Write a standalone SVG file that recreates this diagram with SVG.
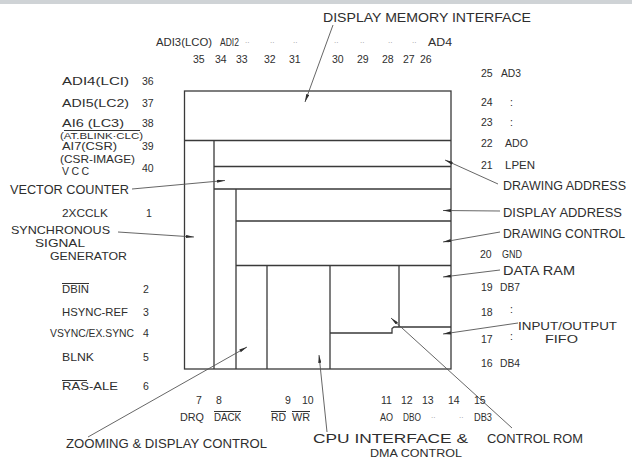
<svg xmlns="http://www.w3.org/2000/svg" width="632" height="459" viewBox="0 0 632 459">
<defs>
<style>
.ln{stroke:#3a3a3a;stroke-width:1.3;fill:none}
.ld{stroke:#555;stroke-width:0.9;fill:none;marker-end:url(#ah)}
.ob{stroke:#333;stroke-width:1}
text{font-family:"Liberation Sans",Arial,sans-serif;fill:#2e2e2e}
.big{font-size:13px}
.mid{font-size:11.5px}
.pin{font-size:10.5px}
.dot{font-size:8px;fill:#999}
</style>
<marker id="ah" viewBox="0 0 10 4" refX="10" refY="2" markerWidth="9" markerHeight="3.2" markerUnits="userSpaceOnUse" orient="auto">
<path d="M0,0 L10,2 L0,4 z" fill="#2e2e2e"/>
</marker>
</defs>
<rect x="0" y="0" width="632" height="459" fill="#ffffff"/>
<rect x="0" y="0" width="632" height="4" fill="#cfd3d6"/>

<g id="chip">
<rect class="ln" x="184.5" y="91" width="266.5" height="278"/>
<path class="ln" d="M184.5,140.5 H451 M214,140.5 V369 M214,166.5 H451 M214,189 H451 M236,189 V369 M236,221 H451 M236,265.5 H451 M267,265.5 V369 M330,265.5 V369 M399,265.5 V327 M330,333 H392 V328.5 L394,327 H451"/>
</g>

<g id="connectors">
<line class="ld" x1="333" y1="25" x2="305" y2="102"/>
<line class="ld" x1="132" y1="189" x2="225" y2="180.5"/>
<line class="ld" x1="118" y1="232" x2="194" y2="237"/>
<line class="ld" x1="88" y1="437" x2="247" y2="347"/>
<line class="ld" x1="327" y1="432" x2="319" y2="355"/>
<line class="ld" x1="512" y1="428" x2="391" y2="318"/>
<line class="ld" x1="518" y1="323" x2="443" y2="334"/>
<line class="ld" x1="500" y1="270" x2="443" y2="277"/>
<line class="ld" x1="500" y1="232" x2="443" y2="242"/>
<line class="ld" x1="500" y1="211" x2="443" y2="210.5"/>
<line class="ld" x1="498" y1="184" x2="445" y2="160"/>
</g>

<g id="display-memory-interface"><text class="big" x="323" y="22" textLength="208" lengthAdjust="spacingAndGlyphs">DISPLAY MEMORY INTERFACE</text></g>
<g id="vector-counter"><text class="big" x="10" y="194" textLength="119" lengthAdjust="spacingAndGlyphs">VECTOR COUNTER</text></g>
<g id="synchronous-signal-generator">
<text class="mid" x="11" y="234" textLength="99" lengthAdjust="spacingAndGlyphs">SYNCHRONOUS</text>
<text class="mid" x="35" y="247" textLength="50" lengthAdjust="spacingAndGlyphs">SIGNAL</text>
<text class="mid" x="50" y="260" textLength="77" lengthAdjust="spacingAndGlyphs">GENERATOR</text>
</g>
<g id="drawing-address"><text class="big" x="503" y="190" textLength="123" lengthAdjust="spacingAndGlyphs">DRAWING ADDRESS</text></g>
<g id="display-address"><text class="big" x="503" y="217" textLength="119" lengthAdjust="spacingAndGlyphs">DISPLAY ADDRESS</text></g>
<g id="drawing-control"><text class="big" x="503" y="238" textLength="122" lengthAdjust="spacingAndGlyphs">DRAWING CONTROL</text></g>
<g id="data-ram"><text class="big" x="503" y="275" textLength="72" lengthAdjust="spacingAndGlyphs">DATA  RAM</text></g>
<g id="input-output-fifo">
<text class="mid" x="518" y="330" textLength="99" lengthAdjust="spacingAndGlyphs">INPUT/OUTPUT</text>
<text class="mid" x="545" y="343" textLength="33" lengthAdjust="spacingAndGlyphs">FIFO</text>
</g>
<g id="zooming-display-control"><text class="big" x="66" y="448" textLength="201" lengthAdjust="spacingAndGlyphs">ZOOMING &amp; DISPLAY CONTROL</text></g>
<g id="cpu-interface-dma-control">
<text class="big" x="313" y="443" textLength="155" lengthAdjust="spacingAndGlyphs">CPU INTERFACE &amp;</text>
<text class="mid" x="370" y="457" textLength="92" lengthAdjust="spacingAndGlyphs">DMA CONTROL</text>
</g>
<g id="control-rom"><text class="big" x="487" y="443" textLength="96" lengthAdjust="spacingAndGlyphs">CONTROL ROM</text></g>

<g id="pins-top">
<text class="pin" x="156" y="46" textLength="56" lengthAdjust="spacingAndGlyphs">ADI3(LCO)</text>
<text class="pin" x="220" y="46" textLength="19" lengthAdjust="spacingAndGlyphs">ADI2</text>
<text class="dot" x="245" y="43">..</text>
<text class="dot" x="270" y="43">..</text>
<text class="dot" x="293" y="43">..</text>
<text class="dot" x="334" y="43">..</text>
<text class="dot" x="360" y="43">..</text>
<text class="dot" x="388" y="43">..</text>
<text class="dot" x="412" y="43">..</text>
<text class="pin" x="428" y="46" textLength="24" lengthAdjust="spacingAndGlyphs">AD4</text>
<text class="pin" x="193" y="63">35</text>
<text class="pin" x="215" y="63">34</text>
<text class="pin" x="236" y="63">33</text>
<text class="pin" x="264" y="63">32</text>
<text class="pin" x="289" y="63">31</text>
<text class="pin" x="332" y="63">30</text>
<text class="pin" x="357" y="63">29</text>
<text class="pin" x="382" y="63">28</text>
<text class="pin" x="403" y="63">27</text>
<text class="pin" x="420" y="63">26</text>
</g>

<g id="pins-left">
<text class="pin" x="62" y="85" textLength="67" lengthAdjust="spacingAndGlyphs">ADI4(LCI)</text>
<text class="pin" x="142" y="85">36</text>
<text class="pin" x="62" y="107" textLength="67" lengthAdjust="spacingAndGlyphs">ADI5(LC2)</text>
<text class="pin" x="142" y="107">37</text>
<text class="pin" x="62" y="127" textLength="62" lengthAdjust="spacingAndGlyphs">AI6 (LC3)</text>
<text class="pin" x="142" y="127">38</text>
<line class="ob" x1="64" y1="130.5" x2="140" y2="130.5"/>
<text class="pin" x="60" y="139" textLength="83" lengthAdjust="spacingAndGlyphs" style="font-size:9.5px">(AT.BLINK·CLC)</text>
<text class="pin" x="62" y="150" textLength="55" lengthAdjust="spacingAndGlyphs">AI7(CSR)</text>
<text class="pin" x="142" y="150">39</text>
<text class="pin" x="60" y="163" textLength="75" lengthAdjust="spacingAndGlyphs">(CSR-IMAGE)</text>
<text class="pin" x="62" y="175" textLength="27" lengthAdjust="spacing">VCC</text>
<text class="pin" x="142" y="172">40</text>
<text class="pin" x="62" y="217" textLength="46" lengthAdjust="spacingAndGlyphs">2XCCLK</text>
<text class="pin" x="146" y="217">1</text>
<text class="pin" x="62" y="293" textLength="27" lengthAdjust="spacingAndGlyphs">DBIN</text>
<line class="ob" x1="62" y1="283.5" x2="89" y2="283.5"/>
<text class="pin" x="143" y="293">2</text>
<text class="pin" x="62" y="316" textLength="66" lengthAdjust="spacingAndGlyphs">HSYNC-REF</text>
<text class="pin" x="143" y="316">3</text>
<text class="pin" x="50" y="337" textLength="84" lengthAdjust="spacingAndGlyphs">VSYNC/EX.SYNC</text>
<text class="pin" x="143" y="337">4</text>
<text class="pin" x="62" y="361" textLength="32" lengthAdjust="spacingAndGlyphs">BLNK</text>
<text class="pin" x="143" y="361">5</text>
<text class="pin" x="62" y="390" textLength="56" lengthAdjust="spacingAndGlyphs">RAS-ALE</text>
<line class="ob" x1="62" y1="380.5" x2="87" y2="380.5"/>
<text class="pin" x="143" y="390">6</text>
</g>

<g id="pins-bottom">
<text class="pin" x="196" y="404">7</text>
<text class="pin" x="216" y="404">8</text>
<text class="pin" x="285" y="404">9</text>
<text class="pin" x="302" y="404">10</text>
<text class="pin" x="381" y="404">11</text>
<text class="pin" x="401" y="404">12</text>
<text class="pin" x="422" y="404">13</text>
<text class="pin" x="448" y="404">14</text>
<text class="pin" x="474" y="404">15</text>
<text class="pin" x="180" y="421" textLength="24" lengthAdjust="spacingAndGlyphs">DRQ</text>
<text class="pin" x="214" y="421" textLength="27" lengthAdjust="spacingAndGlyphs">DACK</text>
<line class="ob" x1="214" y1="411.5" x2="241" y2="411.5"/>
<text class="pin" x="271" y="421" textLength="15" lengthAdjust="spacingAndGlyphs">RD</text>
<line class="ob" x1="271" y1="411.5" x2="286" y2="411.5"/>
<text class="pin" x="292" y="421" textLength="18" lengthAdjust="spacingAndGlyphs">WR</text>
<line class="ob" x1="292" y1="411.5" x2="310" y2="411.5"/>
<text class="pin" x="380" y="421" textLength="13" lengthAdjust="spacingAndGlyphs">AO</text>
<text class="pin" x="403" y="421" textLength="18" lengthAdjust="spacingAndGlyphs">DBO</text>
<text class="dot" x="431" y="418">..</text>
<text class="dot" x="459" y="418">..</text>
<text class="pin" x="474" y="421" textLength="18" lengthAdjust="spacingAndGlyphs">DB3</text>
</g>

<g id="pins-right">
<text class="pin" x="481" y="77">25</text>
<text class="pin" x="501" y="77" textLength="20" lengthAdjust="spacingAndGlyphs">AD3</text>
<text class="pin" x="481" y="106">24</text>
<text class="pin" x="510" y="106">:</text>
<text class="pin" x="481" y="126">23</text>
<text class="pin" x="510" y="126">:</text>
<text class="pin" x="481" y="147">22</text>
<text class="pin" x="505" y="147" textLength="23" lengthAdjust="spacingAndGlyphs">ADO</text>
<text class="pin" x="481" y="169">21</text>
<text class="pin" x="505" y="169" textLength="30" lengthAdjust="spacingAndGlyphs">LPEN</text>
<text class="pin" x="480" y="258">20</text>
<text class="pin" x="502" y="258" textLength="20" lengthAdjust="spacingAndGlyphs">GND</text>
<text class="pin" x="481" y="291">19</text>
<text class="pin" x="500" y="291" textLength="20" lengthAdjust="spacingAndGlyphs">DB7</text>
<text class="pin" x="481" y="316">18</text>
<text class="pin" x="510" y="313">:</text>
<text class="pin" x="481" y="343">17</text>
<text class="pin" x="510" y="340">:</text>
<text class="pin" x="481" y="367">16</text>
<text class="pin" x="500" y="367" textLength="20" lengthAdjust="spacingAndGlyphs">DB4</text>
</g>
</svg>
